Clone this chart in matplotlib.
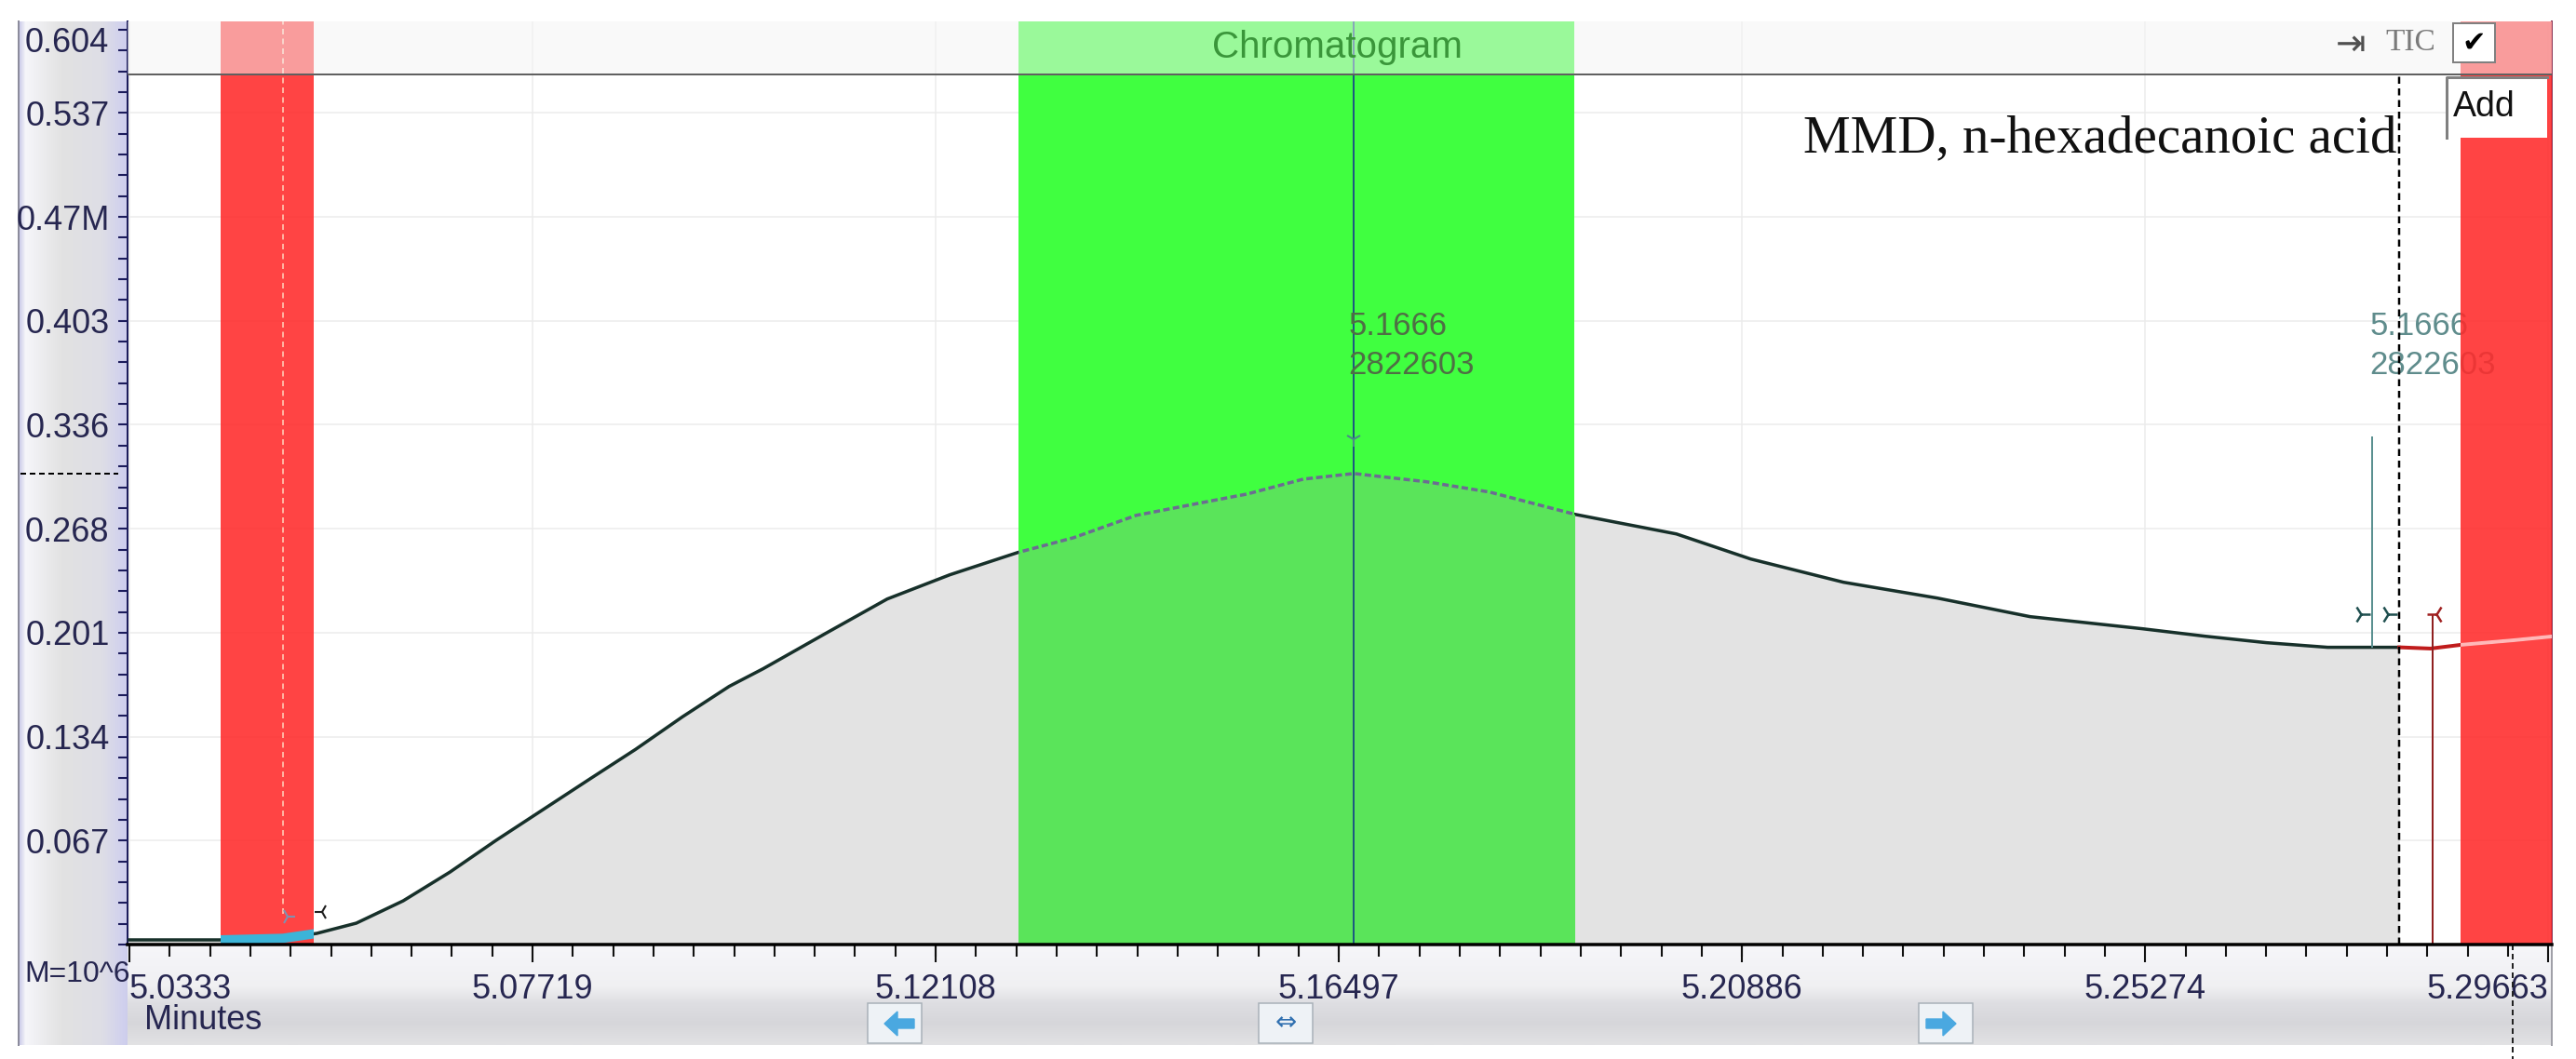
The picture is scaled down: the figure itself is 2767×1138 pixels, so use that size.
import numpy as np
import matplotlib.pyplot as plt
from matplotlib.patches import Rectangle, FancyArrow
from matplotlib.ticker import FixedLocator, MultipleLocator

plt.rcParams['font.family'] = ['Liberation Sans', 'DejaVu Sans']

W, H = 2767, 1138
PT = 0.72  # points per pixel at dpi 100

# chromatogram trace, retention time (min) vs TIC (x10^6)
rt = [5.0331, 5.0432, 5.0500, 5.0537, 5.0580, 5.0631, 5.0682, 5.0732, 5.0783,
      5.0834, 5.0884, 5.0935, 5.0986, 5.1023, 5.1091, 5.1158, 5.1226, 5.1300,
      5.1361, 5.1429, 5.1497, 5.1550, 5.1611, 5.1666, 5.1746, 5.1814, 5.1907,
      5.2017, 5.2098, 5.2199, 5.2301, 5.2402, 5.2524, 5.2592, 5.2659, 5.2726,
      5.2774, 5.2804, 5.2838, 5.2871, 5.2929, 5.2970]
tic = [0.0030, 0.0030, 0.0040, 0.0072, 0.0138, 0.0282, 0.0468, 0.0672, 0.0870,
       0.1068, 0.1260, 0.1470, 0.1667, 0.1781, 0.2009, 0.2231, 0.2387, 0.2531,
       0.2627, 0.2771, 0.2849, 0.2909, 0.3005, 0.3041, 0.2987, 0.2921, 0.2777,
       0.2651, 0.2489, 0.2339, 0.2237, 0.2117, 0.2039, 0.1991, 0.1949, 0.1919,
       0.1919, 0.1919, 0.1911, 0.1935, 0.1965, 0.1989]

x_ticks = [5.0333, 5.07719, 5.12108, 5.16497, 5.20886, 5.25274, 5.29663]
x_labels = ['5.0333', '5.07719', '5.12108', '5.16497', '5.20886', '5.25274', '5.29663']
y_ticks = [0.067111, 0.134222, 0.201333, 0.268444, 0.335556, 0.402667, 0.469778, 0.536889]
y_labels = ['0.067', '0.134', '0.201', '0.268', '0.336', '0.403', '0.47M', '0.537']
y_top_label = '0.604'

red_left = (5.0432, 5.0534)
red_right = (5.2871, 5.2970)
green_win = (5.1301, 5.1906)
peak_rt = 5.1666
peak_text = '5.1666\n2822603'
int_start_mark = 5.0500
int_end = 5.2804
right_drop = 5.2774
red_drop = 5.2840
cursor_rt = 5.2927
header_y = 0.562
xlim = (5.0331, 5.2970)
ylim = (0, 0.596)

rt = np.array(rt)
tic = np.array(tic)
main = rt <= int_end
tail = rt >= int_end

fig = plt.figure(figsize=(W / 100, H / 100), dpi=100)

# window chrome in pixel coordinates
bg = fig.add_axes([0, 0, 1, 1], zorder=0)
bg.set_xlim(0, W)
bg.set_ylim(H, 0)
bg.axis('off')
xs = np.linspace(20, 137, 120)
cols = np.stack([np.interp(xs, [20, 27, 67, 110, 133, 137], c) for c in
                 ([200, 246, 226, 222, 208, 205], [200, 246, 226, 222, 208, 205],
                  [232, 250, 226, 230, 238, 235])], axis=-1) / 255
bg.imshow(cols[None, :, :], extent=[20, 137, 1123, 23], aspect='auto')
ys = np.linspace(1015, 1123, 80)
cols = np.stack([np.interp(ys, [1015, 1060, 1078, 1100, 1123], c) for c in
                 ([246, 240, 222, 214, 226], [246, 240, 222, 214, 226],
                  [250, 242, 226, 218, 228])], axis=-1) / 255
bg.imshow(cols[:, None, :], extent=[137, 2741, 1123, 1015], aspect='auto')
bg.plot([20, 20], [23, 1123], color='#8c8c9c', lw=2 * PT)
bg.plot([2741, 2741], [1015, 1123], color='#a0a0a8', lw=2 * PT)

ax = fig.add_axes([137 / W, (H - 1015) / H, 2604 / W, 992 / H], zorder=1)
ax.set_xlim(*xlim)
ax.set_ylim(*ylim)
ax.set_facecolor('white')
ax.set_axisbelow(True)
ax.grid(True, which='major', color='#ececec', lw=1.5 * PT)

# trace and integrated area
ax.fill_between(rt, tic, where=main, color='#e3e3e3', lw=0, zorder=1)
ax.plot(rt[main], tic[main], color='#17302a', lw=3.5 * PT, zorder=3)
ax.plot(rt[tail], tic[tail], color='#c01c1c', lw=4 * PT, zorder=3)

green = ax.axvspan(*green_win, color='#40ff40', lw=0, zorder=3.5)
inner = ax.fill_between(rt, tic, where=main, color='#5ae45a', lw=0, zorder=3.6)
inner.set_clip_path(green)
dash = ax.plot(rt, tic, color='#6c6c92', lw=3.5 * PT, ls=(0, (2, 1)), zorder=3.7)[0]
dash.set_clip_path(green)

ax.axvline(peak_rt, color='#1d5a80', lw=2 * PT, zorder=4)
ax.plot(peak_rt, 0.326, marker='1', ms=12, color='#4a8a8a', mew=1.5, zorder=4.1)
ax.text(peak_rt - 0.0006, 0.409, peak_text, ha='left', va='top', fontsize=25,
        color='#4f6f45', linespacing=1.35, zorder=4.2)
ax.text(right_drop - 0.0002, 0.409, peak_text, ha='left', va='top', fontsize=25,
        color='#5f8c8c', linespacing=1.35, zorder=4.2)

ax.vlines(right_drop, tic[rt == right_drop][0], 0.328, color='#5a9090', lw=2 * PT, zorder=4)
ax.vlines(red_drop, 0, 0.213, color='#902020', lw=2 * PT, zorder=4)
ax.plot([right_drop - 0.0012, int_end - 0.0012], [0.213, 0.213], ls='none', marker='4',
        ms=14, mew=1.8, color='#1f4f4f', zorder=4.3)
ax.plot(red_drop + 0.0004, 0.213, ls='none', marker='3', ms=14, mew=1.8,
        color='#a02020', zorder=4.3)
ax.vlines(int_end, 0, header_y, color='black', lw=2.5 * PT, linestyles=(0, (3, 2)), zorder=6)

# excluded windows
left_band = ax.axvspan(*red_left, color='#ff2a2a', alpha=0.88, lw=0, zorder=5)
right_band = ax.axvspan(*red_right, color='#ff2a2a', alpha=0.88, lw=0, zorder=5)
cyan = ax.plot(rt, tic, color='#3cb4d8', lw=10 * PT, solid_capstyle='butt', zorder=6)[0]
cyan.set_clip_path(left_band)
pink = ax.plot(rt, tic, color='#ffb8b8', lw=4 * PT, zorder=6)[0]
pink.set_clip_path(right_band)
ax.vlines(int_start_mark, 0.02, ylim[1], color='#ffd8c0', lw=1.5 * PT,
          linestyles=(0, (4, 3)), zorder=6)
ax.plot(int_start_mark + 0.0005, 0.018, marker='4', ms=12, mew=1.5, color='#8090b0', zorder=6)
ax.plot(red_left[1] + 0.0009, 0.021, marker='3', ms=12, mew=1.5, color='#202020', zorder=6)

# header strip
ax.axhspan(header_y, ylim[1], color='#f4f4f4', alpha=0.5, lw=0, zorder=7)
ax.axhline(header_y, color='#606060', lw=2 * PT, zorder=8)
ax.text(5.1648, (header_y + ylim[1]) / 2, 'Chromatogram', ha='center', va='center',
        fontsize=29, color='#3a963a', zorder=9)
ax.text(int_end - 0.0003, 0.512, 'MMD, n-hexadecanoic acid', ha='right', va='baseline',
        fontsize=41, family='Liberation Serif', color='#111111', zorder=9)

# peak level marker on the y axis
ax.plot([-0.044, -0.004], [tic.max(), tic.max()], transform=ax.get_yaxis_transform(),
        color='black', lw=2 * PT, ls=(0, (3, 2)), clip_on=False)
ax.plot([cursor_rt, cursor_rt], [0, -0.125], transform=ax.get_xaxis_transform(),
        color='#222222', lw=2 * PT, ls=(0, (3, 2)), clip_on=False)

# axes
ax.set_xticks(x_ticks)
ax.set_xticklabels(x_labels)
ax.xaxis.set_minor_locator(FixedLocator([x_ticks[0] + 0.0043888 * k for k in range(61)]))
ax.set_yticks(y_ticks)
ax.set_yticklabels(y_labels)
ax.yaxis.set_minor_locator(MultipleLocator(0.604 / 45))
ax.tick_params(axis='y', which='both', direction='out', length=7, width=1.5,
               color='#1c1c5c', labelsize=26, labelcolor='#262650', pad=7)
ax.tick_params(axis='x', which='major', direction='out', length=14, width=1.5,
               color='#111111', labelsize=26, labelcolor='#262650', pad=8)
ax.tick_params(axis='x', which='minor', direction='out', length=9, width=1.5, color='#111111')
xl = ax.get_xticklabels()
xl[0].set_ha('left')
xl[-1].set_ha('right')
ax.annotate(y_top_label, xy=(0, 1), xycoords='axes fraction', xytext=(-14.4, -17),
            textcoords='offset points', ha='right', va='center', fontsize=26, color='#262650')
ax.spines['top'].set_visible(False)
ax.spines['left'].set_color('#1c1c5c')
ax.spines['left'].set_linewidth(2 * PT)
ax.spines['bottom'].set_color('#000000')
ax.spines['bottom'].set_linewidth(3.5 * PT)
ax.spines['bottom'].set_zorder(10)
ax.spines['right'].set_color('#8a3a5a')
ax.spines['right'].set_linewidth(2 * PT)

fig.text(26 / W, 1 - 1047 / H, 'M=10^6', ha='left', va='center', fontsize=23, color='#262650')
fig.text(155 / W, 1 - 1096 / H, 'Minutes', ha='left', va='center', fontsize=26, color='#262650')

# widgets drawn on top
ui = fig.add_axes([0, 0, 1, 1], zorder=3)
ui.set_xlim(0, W)
ui.set_ylim(H, 0)
ui.axis('off')
ui.patch.set_alpha(0)
ui.text(2525, 48, '⇥', ha='center', va='center', fontsize=28, color='#505050',
        family='DejaVu Sans')
ui.text(2589, 46, 'TIC', ha='center', va='center', fontsize=24, color='#7a7a7a',
        family='Liberation Serif')
ui.add_patch(Rectangle((2635, 25), 45, 42, fc='white', ec='#808080', lw=2 * PT))
ui.text(2657, 46, '✔', ha='center', va='center', fontsize=22, color='black',
        family='DejaVu Sans')
ui.add_patch(Rectangle((2628, 83), 108, 65, fc='white', ec='none'))
ui.plot([2628, 2628, 2736], [148, 83, 83], color='#808080', lw=3 * PT)
ui.text(2635, 115, 'Add', ha='left', va='center', fontsize=27, color='#111111')

for bx in (932, 1352, 2061):
    ui.add_patch(Rectangle((bx, 1078), 58, 43, fc='#eef2f6', ec='#a8b0b8', lw=1.5 * PT))
ui.add_patch(FancyArrow(982, 1100, -32, 0, width=10, head_width=26, head_length=14,
                        length_includes_head=True, color='#4aa8e0'))
ui.add_patch(FancyArrow(2069, 1100, 32, 0, width=10, head_width=26, head_length=14,
                        length_includes_head=True, color='#4aa8e0'))
ui.text(1381, 1099, '⇔', ha='center', va='center', fontsize=20, color='#3070b0',
        family='DejaVu Sans')

fig.savefig('out.png', dpi=100)
